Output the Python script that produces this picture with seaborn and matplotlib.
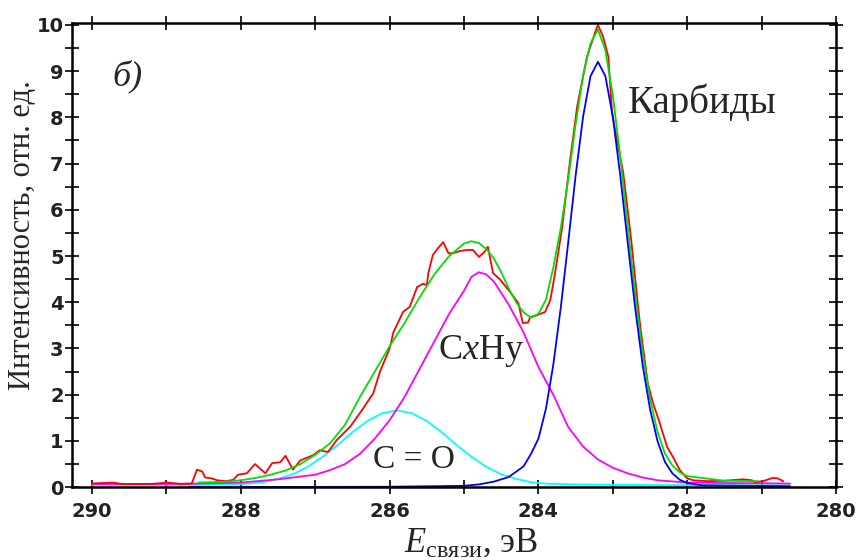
#!/usr/bin/env python3
"""
XPS C1s spectrum with fitted components (panel b)
"""
import matplotlib

matplotlib.use("Agg")
import matplotlib.pyplot as plt
from matplotlib.ticker import MultipleLocator
import seaborn as sns

exp_x = [290.0, 289.72, 289.6, 289.2, 288.99, 288.8, 288.66, 288.59, 288.52, 288.48,
         288.39, 288.32, 288.2, 288.1, 288.04, 287.92, 287.81, 287.67, 287.58, 287.47,
         287.4, 287.3, 287.2, 287.03, 286.94, 286.83, 286.71, 286.53, 286.37, 286.22,
         286.13, 286.0, 285.95, 285.82, 285.73, 285.63, 285.55, 285.5, 285.48, 285.42,
         285.35, 285.28, 285.21, 285.15, 285.05, 284.96, 284.88, 284.8, 284.73, 284.68,
         284.61, 284.52, 284.38, 284.27, 284.21, 284.14, 284.11, 284.05, 283.91, 283.84,
         283.8, 283.75, 283.68, 283.58, 283.48, 283.41, 283.35, 283.24, 283.2, 283.13,
         283.06, 283.01, 282.97, 282.86, 282.75, 282.67, 282.63, 282.53, 282.46, 282.37,
         282.27, 282.19, 282.1, 282.0, 281.92, 281.72, 281.5, 281.25, 281.13, 281.09,
         280.98, 280.91, 280.85, 280.78, 280.71]
exp_y = [0.08, 0.1, 0.07, 0.07, 0.1, 0.07, 0.08, 0.38, 0.34, 0.21,
         0.19, 0.15, 0.13, 0.16, 0.27, 0.3, 0.5, 0.3, 0.52, 0.54,
         0.68, 0.38, 0.58, 0.69, 0.8, 0.76, 1.02, 1.31, 1.67, 2.03,
         2.5, 3.0, 3.35, 3.79, 3.9, 4.33, 4.4, 4.37, 4.63, 5.02,
         5.17, 5.3, 5.06, 5.06, 5.11, 5.13, 5.13, 4.98, 5.08, 5.2,
         4.63, 4.5, 4.22, 3.98, 3.55, 3.56, 3.68, 3.7, 3.79, 4.05,
         4.41, 4.9, 5.63, 7.0, 8.23, 8.8, 9.29, 9.83, 10.0, 9.74,
         9.31, 8.1, 7.73, 6.8, 5.3, 4.05, 3.46, 2.25, 1.82, 1.39,
         0.87, 0.65, 0.37, 0.19, 0.15, 0.13, 0.14, 0.17, 0.15, 0.11,
         0.13, 0.17, 0.2, 0.19, 0.13]

# total fit (green)
fit_x = [288.57, 288.2, 288.0, 287.8, 287.6, 287.4, 287.2, 287.0, 286.8, 286.6,
         286.4, 286.2, 286.0, 285.8, 285.6, 285.4, 285.2, 285.0, 284.9, 284.8,
         284.7, 284.6, 284.5, 284.4, 284.3, 284.2, 284.1, 284.0, 283.9, 283.8,
         283.7, 283.6, 283.5, 283.4, 283.3, 283.2, 283.1, 283.0, 282.9, 282.8,
         282.7, 282.6, 282.5, 282.4, 282.3, 282.2, 282.1, 282.0, 281.8, 281.5,
         281.05]
fit_y = [0.1, 0.12, 0.15, 0.2, 0.27, 0.36, 0.5, 0.7, 0.95, 1.35,
         1.95, 2.5, 3.05, 3.55, 4.1, 4.6, 5.0, 5.27, 5.32, 5.28,
         5.15, 4.95, 4.65, 4.3, 4.0, 3.78, 3.67, 3.75, 4.05, 4.75,
         5.6, 6.65, 7.85, 8.9, 9.6, 9.9, 9.45, 8.48, 7.15, 5.64,
         4.18, 2.91, 1.92, 1.2, 0.73, 0.47, 0.32, 0.24, 0.2, 0.14,
         0.13]

# carbide component (blue)
carb_x = [288.7, 286.0, 285.0, 284.8, 284.6, 284.4, 284.2, 284.1, 284.0, 283.9,
          283.8, 283.7, 283.6, 283.5, 283.4, 283.3, 283.2, 283.1, 283.0, 282.9,
          282.8, 282.7, 282.6, 282.5, 282.4, 282.3, 282.2, 282.1, 282.0, 281.8,
          280.62]
carb_y = [0.0, 0.01, 0.03, 0.06, 0.12, 0.22, 0.45, 0.72, 1.05, 1.69,
          2.65, 3.88, 5.29, 6.74, 8.01, 8.89, 9.2, 8.89, 8.01, 6.74,
          5.29, 3.88, 2.65, 1.69, 1.0, 0.55, 0.3, 0.16, 0.09, 0.04,
          0.02]

# CxHy component (magenta)
chx_x = [290.0, 289.0, 288.5, 288.0, 287.5, 287.0, 286.8, 286.6, 286.4, 286.2,
         286.0, 285.8, 285.6, 285.4, 285.2, 285.0, 284.9, 284.8, 284.7, 284.6,
         284.4, 284.2, 284.0, 283.8, 283.6, 283.4, 283.2, 283.0, 282.8, 282.6,
         282.4, 282.0, 281.5, 280.62]
chx_y = [0.07, 0.07, 0.08, 0.1, 0.17, 0.27, 0.37, 0.5, 0.72, 1.05,
         1.45, 1.95, 2.55, 3.15, 3.75, 4.25, 4.55, 4.65, 4.6, 4.45,
         3.95, 3.35, 2.6, 2.0, 1.3, 0.88, 0.6, 0.42, 0.3, 0.21,
         0.15, 0.1, 0.09, 0.08]

# C=O component (cyan)
co_x = [290.0, 288.5, 287.9, 287.7, 287.5, 287.3, 287.1, 286.9, 286.7, 286.5,
        286.3, 286.1, 285.9, 285.7, 285.5, 285.3, 285.1, 284.9, 284.7, 284.5,
        284.3, 284.1, 283.9, 283.5, 283.0, 280.62]
co_y = [0.05, 0.05, 0.075, 0.11, 0.18, 0.28, 0.44, 0.66, 0.91, 1.19,
        1.43, 1.6, 1.66, 1.6, 1.43, 1.19, 0.91, 0.66, 0.44, 0.28,
        0.18, 0.11, 0.075, 0.06, 0.05, 0.04]

sns.set_style("ticks")
plt.rcParams["font.family"] = ["Liberation Serif", "DejaVu Serif"]
plt.rcParams["mathtext.fontset"] = "custom"
plt.rcParams["mathtext.rm"] = "Liberation Serif"
plt.rcParams["mathtext.it"] = "Liberation Serif:italic"

fig = plt.figure(figsize=(8.57, 5.6), dpi=100)
ax = fig.add_axes([0.084, 0.130, 0.8915, 0.829])

lw = 1.3
sns.lineplot(x=co_x, y=co_y, color="#00ffff", lw=lw, estimator=None, ax=ax)
sns.lineplot(x=chx_x, y=chx_y, color="#ff00ff", lw=lw, estimator=None, ax=ax)
sns.lineplot(x=exp_x, y=exp_y, color="#ff0000", lw=lw, estimator=None, ax=ax)
sns.lineplot(x=fit_x, y=fit_y, color="#00e000", lw=lw, estimator=None, ax=ax)
sns.lineplot(x=carb_x, y=carb_y, color="#0000ff", lw=lw, estimator=None, ax=ax)

ax.set_xlim(290.27, 280.0)
ax.set_ylim(0, 10.04)

ax.xaxis.set_major_locator(MultipleLocator(2))
ax.xaxis.set_minor_locator(MultipleLocator(1))
ax.yaxis.set_major_locator(MultipleLocator(1))
ax.yaxis.set_minor_locator(MultipleLocator(0.5))
ax.tick_params(which="both", direction="inout", length=10, width=1.2,
               top=True, right=True, color="black")
ax.tick_params(axis="x", pad=6)
ax.tick_params(axis="y", pad=1)
for lab in ax.get_xticklabels() + ax.get_yticklabels():
    lab.set_fontfamily("DejaVu Sans")
    lab.set_fontweight("bold")
    lab.set_fontsize(14)
    lab.set_color("#222222")

for sp in ax.spines.values():
    sp.set_linewidth(1.8)
    sp.set_color("black")

ax.set_xlabel(r"$E_{\rm связи}$, эВ", fontsize=25)
ax.xaxis.set_label_coords(0.522, -0.085)
ax.set_ylabel("Интенсивность, отн. ед.", fontsize=22)
ax.yaxis.set_label_coords(-0.046, 0.543)

ax.text(289.73, 8.7, "б)", fontsize=26, style="italic")
ax.text(282.8, 8.1, "Карбиды", fontsize=28)
ax.text(285.35, 2.78, r"C$\it{x}$Hy", fontsize=26)
ax.text(286.23, 0.42, "C = O", fontsize=24)

plt.savefig("out.png", dpi=100)
plt.close()
